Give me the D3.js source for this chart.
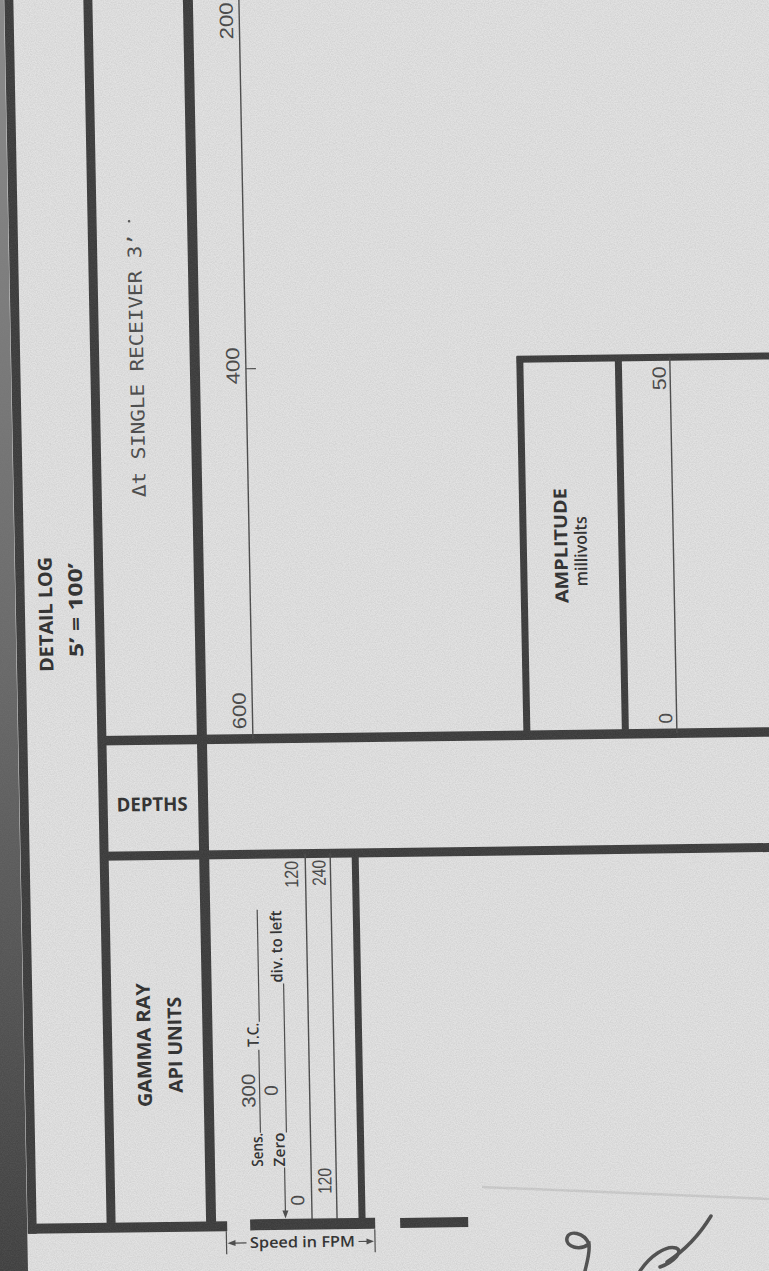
<!DOCTYPE html>
<html><head><meta charset="utf-8">
<script src="https://cdn.jsdelivr.net/npm/d3@7"></script>
<style>html,body{margin:0;padding:0;background:#e2e2e2;overflow:hidden}</style>
</head><body><div id="chart"></div>
<script>
const acousticTicks  = [600, 400, 200];   // Δt track scale labels
const acousticMarked = [400];             // scale value that carries a tick
const amplitudeTicks = [0, 50];           // millivolts
const gammaScaleA    = [0, 120];          // API units, first scale
const gammaScaleB    = [120, 240];        // API units, back-up scale
const gammaSens      = ["300"];
const gammaZero      = ["0"];
const headerTitles   = ["DETAIL LOG", "5\u2019 = 100\u2019"];
const acousticTitle  = ["\u0394t SINGLE RECEIVER 3\u2019"];
const gammaTitles    = ["GAMMA RAY", "API UNITS"];
const ampTitles      = ["AMPLITUDE", "millivolts"];

// ---------------- drawing ----------------
const W = 769, H = 1271;
const INK = "#3b3b3b", TXT = "#2f2f2f", THIN = "#4a4a4a", NUM = "#474747";

const svg = d3.select("#chart").append("svg").attr("width", W).attr("height", H);
const defs = svg.append("defs");
const grain = defs.append("filter").attr("id", "grain").attr("x", 0).attr("y", 0).attr("width", 1).attr("height", 1);
grain.append("feTurbulence").attr("type", "fractalNoise").attr("baseFrequency", 0.85).attr("numOctaves", 2).attr("seed", 7);
grain.append("feColorMatrix").attr("type", "matrix")
  .attr("values", "0 0 0 0 0.25  0 0 0 0 0.25  0 0 0 0 0.25  0.9 0 0 0 -0.25");
const shade = defs.append("linearGradient").attr("id", "spine").attr("x1", 0).attr("y1", 0).attr("x2", 0).attr("y2", 1);
shade.append("stop").attr("offset", "0").attr("stop-color", "#8e8e8e");
shade.append("stop").attr("offset", "0.5").attr("stop-color", "#6a6a6a");
shade.append("stop").attr("offset", "1").attr("stop-color", "#3c3c3c");

svg.append("rect").attr("width", W).attr("height", H).attr("fill", "#e2e2e2");

// scan skew of the sheet
const g = svg.append("g").attr("transform", "matrix(1,-0.013,0.019,1,-12.07,4.99)");

function seg(x1, y1, x2, y2, w, c) {
  g.append("line").attr("x1", x1).attr("y1", y1).attr("x2", x2).attr("y2", y2)
    .attr("stroke", c || INK).attr("stroke-width", w);
}
function vtext(x, y, s, o) {
  const t = g.append("text").attr("transform", `translate(${x},${y}) rotate(-90)`)
    .attr("text-anchor", "middle").attr("dominant-baseline", "central")
    .attr("font-family", o.family || "'Open Sans', 'DejaVu Sans', sans-serif")
    .attr("font-size", o.size).attr("font-weight", o.weight || "normal")
    .attr("fill", o.fill || TXT).text(s);
  if (o.len) t.attr("textLength", o.len).attr("lengthAdjust", "spacingAndGlyphs");
  return t;
}
function htext(x, y, s, o) {
  const t = g.append("text").attr("x", x).attr("y", y)
    .attr("text-anchor", "middle").attr("dominant-baseline", "central")
    .attr("font-family", o.family || "'Open Sans', 'DejaVu Sans', sans-serif")
    .attr("font-size", o.size).attr("font-weight", o.weight || "normal")
    .attr("fill", o.fill || TXT).text(s);
  if (o.len) t.attr("textLength", o.len).attr("lengthAdjust", "spacingAndGlyphs");
  return t;
}
const MONO = "'DejaVu Sans Mono', monospace";
const DIG = "'Liberation Sans', 'DejaVu Sans', sans-serif";
function num(x, y, v, len) {
  return vtext(x, y, String(v), {family: DIG, size: 19, fill: NUM, len: len});
}

// spine shadow on the left edge
g.append("rect").attr("x", -60).attr("y", -40).attr("width", 76).attr("height", 1360).attr("fill", "url(#spine)");

// main frame
const X1 = 21, X2 = 100, X3 = 200, YB = 1224, YH1 = 737, YH2 = 852.5;
seg(X1, -40, X1, YB + 5, 9);
seg(X2, -40, X2, YB, 9);
seg(X3, -40, X3, YB, 10);
seg(X1 - 4, YB, 216, YB, 10);
seg(X2 - 4, YH1, 800, YH1, 9.5);
seg(X2 - 4, YH2, 800, YH2, 9);

// acoustic (Δt) track scale
const XAC = 251;
const yAc = d3.scaleLinear().domain([200, 600]).range([22, 712]);
seg(XAC, -40, XAC, YH1, 1.4, THIN);
acousticMarked.forEach(v => seg(XAC, yAc(v), XAC + 10, yAc(v), 1.2, THIN));
acousticTicks.forEach(v => num(238, yAc(v) - 3, v, 37));

// amplitude box
const XA1 = 525, XA2 = 623.5, XA3 = 675, YA = 361;
seg(XA1 - 3, YA, 800, YA, 7);
seg(XA1, YA - 3, XA1, YH1, 7);
seg(XA2, YA, XA2, YH1, 7);
seg(XA3, YA, XA3, YH1, 1.4, THIN);
const yAmp = d3.scaleLinear().domain(amplitudeTicks).range([722, 382]);
amplitudeTicks.forEach(v => num(664, yAmp(v), v, String(v).length > 1 ? 24 : null));
vtext(562, 548, ampTitles[0], {size: 18, weight: "bold", len: 115});
vtext(582, 554, ampTitles[1], {size: 17, weight: "600", len: 70});

// titles
vtext(46, 610, headerTitles[0], {size: 19, weight: "bold", len: 115});
vtext(76, 606, headerTitles[1], {size: 19, weight: "bold", len: 94});
vtext(142, 362, acousticTitle[0], {family: MONO, size: 18.5, fill: "#4a4a4a", len: 264});
g.append("circle").attr("cx", 137).attr("cy", 218).attr("r", 1.3).attr("fill", "#555");
htext(149, 801, "DEPTHS", {size: 19, weight: "bold", len: 71});
vtext(136, 1042, gammaTitles[0], {size: 19, weight: "bold", len: 124});
vtext(167, 1042, gammaTitles[1], {size: 19, weight: "bold", len: 96});

// gamma ray track
const XG1 = 301, XG2 = 326, XG3 = 351;
seg(XG1, YH2, XG1, 1218, 1.4, THIN);
seg(XG2, YH2, XG2, 1218, 1.4, THIN);
seg(XG3, YH2, XG3, 1223, 7);
seg(239, 1223, 364, 1223, 11);
seg(389, 1223, 457, 1223, 10);
const yGA = d3.scaleLinear().domain(gammaScaleA).range([1199, 873]);
const yGB = d3.scaleLinear().domain(gammaScaleB).range([1180, 872]);
gammaScaleA.forEach(v => num(287, yGA(v), v, String(v).length > 1 ? 27 : null));
gammaScaleB.forEach(v => num(314.5, yGB(v), v, 26));

// sensitivity / zero settings
vtext(247, 1148, "Sens.", {size: 15.5, weight: "600", len: 34});
seg(251, 1048, 251, 1131, 1.2, THIN);
num(240, 1089, gammaSens[0], 34);
vtext(245, 1033, "T.C.", {size: 15.5, weight: "600", len: 24});
seg(252, 908, 252, 1020, 1.2, THIN);
vtext(269, 1148, "Zero", {size: 15.5, weight: "600", len: 34});
seg(277, 982, 277, 1131, 1.2, THIN);
num(262.5, 1089, gammaZero[0], null);
vtext(270, 945, "div. to left", {size: 15.5, weight: "600", len: 72});
seg(274.5, 1166, 274.5, 1210, 1.2, THIN);
g.append("path").attr("d", "M271.5,1209 L277.5,1209 L274.5,1217 Z").attr("fill", THIN);

// speed in FPM
seg(215, 1229, 215, 1252, 1.2, THIN);
seg(363.5, 1229, 363.5, 1252, 1.2, THIN);
seg(223, 1241, 235, 1241, 1.2, THIN);
seg(347, 1241, 356, 1241, 1.2, THIN);
g.append("path").attr("d", "M216,1241 L224,1238 L224,1244 Z").attr("fill", THIN);
g.append("path").attr("d", "M362.5,1241 L355,1238 L355,1244 Z").attr("fill", THIN);
htext(291, 1240, "Speed in FPM", {size: 15, weight: "600", len: 105});

// faint edge of an underlying sheet and handwritten mark (screen coordinates)
svg.append("path").attr("d", "M482,1187 L769,1199").attr("stroke", "#cdcdcd").attr("stroke-width", 2.5).attr("fill", "none");
svg.append("path").attr("d",
  "M589,1244 C584,1232 569,1230 567,1238 C565,1247 580,1251 589,1244 C590,1253 587,1262 585,1271 " +
  "M640,1271 C650,1256 666,1245 676,1248 C684,1251 674,1262 660,1267 M667,1262 C684,1251 700,1234 711,1216")
  .attr("stroke", "#4f4f4f").attr("stroke-width", 3.5).attr("fill", "none").attr("stroke-linecap", "round");

// paper grain
svg.append("rect").attr("width", W).attr("height", H).attr("filter", "url(#grain)").attr("opacity", 0.35);
</script>
</body></html>
